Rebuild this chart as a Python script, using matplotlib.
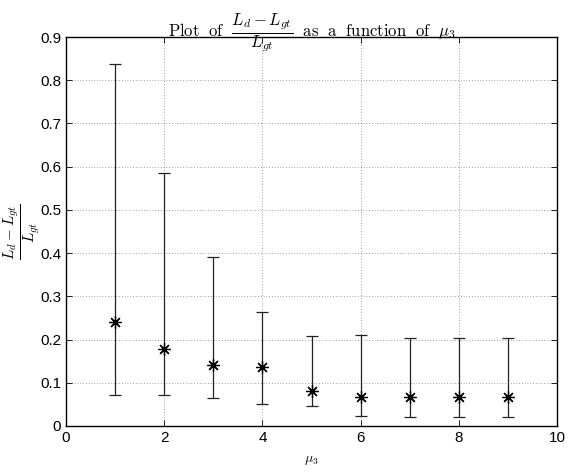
import matplotlib
matplotlib.use("Agg")
import matplotlib.pyplot as plt
import numpy as np

mu3 = [1, 2, 3, 4, 5, 6, 7, 8, 9]
mean_err = [0.240, 0.178, 0.140, 0.137, 0.082, 0.066, 0.067, 0.066, 0.066]
upper = [0.838, 0.585, 0.391, 0.263, 0.209, 0.211, 0.204, 0.204, 0.204]
lower = [0.072, 0.071, 0.064, 0.052, 0.047, 0.023, 0.021, 0.021, 0.021]

plt.rcParams['mathtext.fontset'] = 'cm'
plt.rcParams['font.family'] = ['Liberation Sans', 'DejaVu Sans']

fig = plt.figure(figsize=(5.68, 4.72), dpi=100)
ax = fig.add_axes([0.116, 0.0975, 0.865, 0.824])

y = np.array(mean_err)
yerr = np.vstack([y - np.array(lower), np.array(upper) - y])
ax.errorbar(mu3, y, yerr=yerr, fmt='none', ecolor='#222222',
            elinewidth=0.9, capsize=4, capthick=0.9)
ax.plot(mu3, y, linestyle='none', marker=(8, 2, 0), color='black',
        markersize=9, markeredgewidth=0.9)

ax.set_xlim(0, 10)
ax.set_ylim(0, 0.9)
ax.set_xticks([0, 2, 4, 6, 8, 10])
ax.set_yticks(np.arange(0, 0.91, 0.1))
ax.set_yticklabels(['0', '0.1', '0.2', '0.3', '0.4', '0.5', '0.6', '0.7', '0.8', '0.9'])
ax.grid(True, linestyle=(0, (1, 3)), color='black', linewidth=0.5, alpha=0.7)
ax.tick_params(direction='in', top=True, right=True, labelsize=11, length=4, width=0.6)
for s in ax.spines.values():
    s.set_linewidth(1.0)

ax.set_title(r'$\mathrm{Plot\ \ of}\ \ \dfrac{L_d - L_{gt}}{L_{gt}}\ \ \mathrm{as\ \ a\ \ function\ \ of}\ \ \mu_3$',
             fontsize=12, pad=1)
ax.set_xlabel(r'$\mu_3$', fontsize=10, labelpad=6)
ax.set_ylabel(r'$\dfrac{L_d - L_{gt}}{L_{gt}}$', fontsize=11)
ax.yaxis.set_label_coords(-0.05, 0.5)

fig.savefig('out.png', dpi=100)
